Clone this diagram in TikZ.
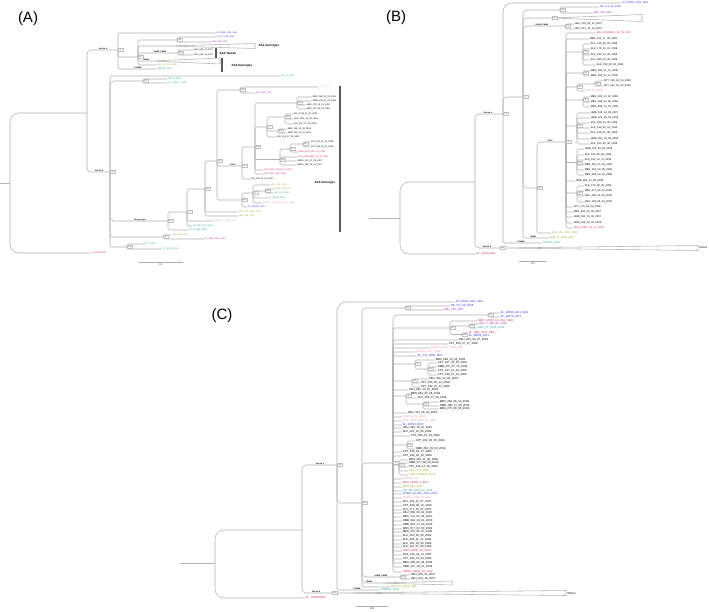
\documentclass[tikz,border=0pt]{standalone}
\usepackage{fontspec}
\setmainfont{Liberation Sans}
\usetikzlibrary{positioning}
\definecolor{blu}{HTML}{2F2FE6}
\definecolor{pur}{HTML}{A626C6}
\definecolor{tea}{HTML}{22A4AA}
\definecolor{oli}{HTML}{A8A820}
\definecolor{grn}{HTML}{6CB02C}
\definecolor{crm}{HTML}{D42A5C}
\definecolor{pnk}{HTML}{EE98AE}
\definecolor{ppk}{HTML}{F4CCD6}

\begin{document}
\begin{tikzpicture}[x=1pt,y=-1pt,
      br/.style={draw=gray!60,line width=0.55pt,rounded corners=1.5pt},
      rm/.style={br,rounded corners=4pt},
      rt/.style={br,rounded corners=9pt},
      tri/.style={draw=gray!60,line width=0.55pt,fill=white},
      la/.style={font=\fontsize{2.2}{2.4}\selectfont,inner sep=0.6pt,anchor=west},
      lb/.style={la,font=\fontsize{2.6}{2.8}\selectfont},
      lc/.style={la,font=\fontsize{2.8}{3}\selectfont},
      bx/.style={draw=gray!50,line width=0.25pt,fill=white,text=black!80,font=\fontsize{1.5}{1.7}\selectfont,
        inner sep=0.4pt,minimum width=5pt,minimum height=3pt,anchor=west},
      bl/.style={font=\fontsize{1.9}{2.1}\selectfont\bfseries,inner sep=0.3pt,anchor=south},
      cl/.style={font=\fontsize{3}{3.4}\selectfont\bfseries,inner sep=0.5pt,anchor=west},
      bar/.style={draw=black!65,line width=1.2pt},
      pl/.style={font=\fontsize{15}{18}\selectfont,inner sep=0pt},
      sc/.style={draw=gray!65,line width=0.8pt}]
      \fill[white] (0,0) rectangle (709,611);
      \useasboundingbox (0,0) rectangle (709,611);

      % Panel A
      \node[pl] (labA) at (28,19) {(A)};
      \coordinate (A0) at (0,183);   \coordinate (rA) at (10,183);
      \coordinate (A1) at (87,113);  \coordinate (A2) at (118,50);
      \coordinate (A3) at (110,172); \coordinate (A4) at (138,57);
      \coordinate (A5) at (177,40);  \coordinate (A6) at (178,53);
      \coordinate (A7) at (143,81);  \coordinate (A8) at (168,221);
      \coordinate (A9) at (163,237); \coordinate (A10) at (127,247);
      \coordinate (A11) at (187,212); \coordinate (A12) at (205,189);
      \coordinate (A13) at (217,161); \coordinate (A14) at (240,90);
      \coordinate (A16) at (242,166); \coordinate (A17) at (255,147);
      \coordinate (A18) at (297,103); \coordinate (A19) at (267,127);
      \coordinate (A20) at (285,117); \coordinate (A21) at (278,131);
      \coordinate (A22) at (280,159.5); \coordinate (A23) at (290,149);
      \coordinate (A24) at (303,144); \coordinate (A25) at (242,200);
      \coordinate (A26) at (253,193); \coordinate (A27) at (265,191);
      \coordinate (tA1) at (168,46);  \coordinate (tA2) at (152,61);

      \draw[br] (A0) -- (rA);
      \node[la,text=crm] (a253) at (90,253) {KL\_UNKNOWN};
      \draw[rt] (rA) |- (A1);
      \draw[rt] (rA) |- (a253.west);
      \foreach \p/\q in {A1/A2,A1/A3,A3/A7,A3/A8}
        \draw[rm] (\p) |- (\q);
      \foreach \p/\q in {A2/A4,A4/A5,A4/A6,A4/tA1,A4/tA2,A3/A9,A3/A10,A8/A11,A11/A12,
          A12/A13,A13/A14,A13/A16,A13/A25,A16/A17,A17/A18,A17/A19,A19/A20,A19/A21,
          A17/A22,A22/A23,A23/A24,A25/A26,A26/A27}
        \draw[br] (\p) |- (\q);
      \foreach \p/\x/\y/\cl/\tx in {
          A2/215/33/blu/KJ\_00082\_2011\_SEA, A5/216/37/blu/HK\_271\_08\_2008,
          A5/211/42/pur/HKU\_248\_2007, A6/193/50/black/HKU\_203\_21\_2007,
          A6/193/55/black/HKU\_013\_16\_2007, A4/156/65/oli/HKU\_07\_2008\_SEA,
          A2/156/69/tea/TW0003\_2004, A3/281/76/tea/HK\_28\_2012,
          A7/167/79/tea/TW\_05\_2006, A7/167/83/tea/HL\_70082\_3\_2008,
          A14/318/87/ppk/HL\_76\_2004, A14/255/93/pur/HKU\_238\_2007,
          A18/312/97/black/MBS\_228\_09\_05\_2009, A18/312/101/black/MMB\_108\_11\_05\_2009,
          A18/306/105/black/MBS\_171\_04\_03\_2009, A18/306/109/black/MBS\_237\_08\_03\_2009,
          A20/293/114/black/KLK\_2014\_11\_07\_2009, A20/293/119/black/HKS\_2074\_14\_09\_2009,
          A20/293/124/black/KLK\_297\_17\_09\_2009, A21/287/129/black/MBS\_295\_23\_03\_2009,
          A21/287/133/black/MBS\_293\_22\_03\_2009, A19/276/137/black/HLK\_041\_07\_05\_2009,
          A24/310/142/black/CPT\_611\_06\_10\_2008, A24/310/147/black/CPT\_508\_04\_11\_2008,
          A23/298/152/crm/HKM\_3193\_6871\_11\_2007, A22/298/157/crm/HKU\_83396831\_15\_05\_2008,
          A22/297/161/black/MBS1\_100\_07\_08\_2007, A22/297/165/black/MBS1\_789\_09\_04\_2007,
          A17/263/170/crm/HKM\_3190\_17693\_10\_2003, A17/263/174/crm/HKU\_9071\_Mar\_2004,
          A16/250/179/black/KLK\_203\_21\_05\_2007, A26/270/185/oli/HKU\_202\_2006,
          A27/275/189/oli/KMS\_195\_2007, A27/274/193/tea/HK\_152\_2008,
          A26/268/198/tea/TY\_97412\_2008, A26/262/203/pnk/SGPSG\_SGP\_2003\_SEA\_1993,
          A25/247/207/blu/KL\_209004\_2007, A12/238/212/oli/TWU\_775\_2005\_2008,
          A12/238/216/oli/KMS\_155\_2007, A11/213/221/pnk/SGPSG\_2\_1989\_2009,
          A11/192/226/tea/HK\_TM\_2013\_2008, A8/188/230/tea/HK\_2013SA\_2008,
          A9/172/235/grn/VN\_0972\_2007, A9/204/239/crm/KL\_1895\_1996\_2007,
          A10/142/244/tea/MY\_72\_2012, A10/162/249/tea/TY\_80001\_2010}
        {\node[la,text=\cl] (a\y) at (\x,\y) {\tx};
         \draw[br] (\p) |- (a\y.west);}

      % Collapsed clades and genotype bars
      \draw[tri] (tA1) -- ++(87,-2.5) -- ++(0,5) -- cycle;
      \draw[tri] (tA2) -- ++(68,-3) -- ++(0,6) -- cycle;
      \coordinate (eA1) at (255,46);
      \node[cl,right=3pt of eA1] (gA1) {SA1 Genotype};
      \coordinate (bA1) at (216,48); \coordinate (bA2) at (216,58);
      \coordinate (bA3) at (222,58); \coordinate (bA4) at (222,72);
      \coordinate (bA5) at (340,86); \coordinate (bA6) at (340,232);
      \draw[bar] (bA1) -- (bA2);
      \draw[bar] (bA3) -- (bA4);
      \draw[bar] (bA5) -- (bA6);
      \node[cl] (gA2) at (219,53) {SA2 Taiwan};
      \node[cl] (gA3) at (231,66) {SA2 Genotype};
      \node[cl] (gA4) at (314,183) {SA3 Genotype};

      % Branch labels and support values
      \node[bl] (lA1) at (103,50) {Sub-lin A};
      \node[bl] (lA2) at (99,172) {Sub-lin B};
      \node[bl] (lA3) at (160,53) {HKMB\_TWMB};
      \node[bl] (lA4) at (146,61) {TWMB};
      \node[bl] (lA5) at (138,69) {STWMB};
      \node[bl] (lA6) at (140,221) {SB genotype};
      \node[bl] (lA7) at (233,166) {CSDC};
      \foreach \p/\v in {A2/99,A3/100,A4/100,A5/100,A6/100,A7/100,A8/100,A9/98,A10/100,
          A11/97,A12/100,A13/100,A14/100,A16/92,A17/100,A18/100,A19/99,A20/100,A21/100,
          A22/100,A23/84,A24/100,A25/100,A26/99,A27/100}
        \node[bx] (b\p) at (\p) {\v};

      \coordinate (sA1) at (139,262); \coordinate (sA2) at (183,262);
      \draw[sc] (sA1) -- (sA2);
      \node[la,anchor=north] (sAl) at (161,263) {0.1};

      % Panel B
      \node[pl] (labB) at (396,18) {(B)};
      \coordinate (B0) at (369,218);  \coordinate (rB) at (400,218);
      \coordinate (B1) at (475,182);  \coordinate (B2) at (503,114);
      \coordinate (B3) at (523,97);   \coordinate (B4) at (560,10);
      \coordinate (B5) at (565,26);   \coordinate (B6) at (537,188);
      \coordinate (B7) at (566,142);  \coordinate (B8) at (583,52);
      \coordinate (B9) at (583,73);   \coordinate (B10) at (577,87);
      \coordinate (B11) at (595,84);  \coordinate (B12) at (583,100);
      \coordinate (B13) at (577,126); \coordinate (B14) at (577,162.5);
      \coordinate (B15) at (577,193);
      \coordinate (tB1) at (500,248); \coordinate (tB2) at (552,18);

      \draw[br] (B0) -- (rB);
      \node[lb,text=crm] (b254) at (476,254) {KL\_UNKNOWN};
      \node[lb,text=blu] (b3) at (622,3) {KJ\_00082\_2011\_SEA};
      \draw[rt] (rB) |- (B1);
      \draw[rt] (rB) |- (b254.west);
      \draw[rt] (B2) |- (b3.west);
      \foreach \p/\q in {B1/B2,B1/tB1,B2/B3,B3/B4,B3/tB2,B3/B5,B3/B6,B6/B7}
        \draw[rm] (\p) |- (\q);
      \foreach \p/\q in {B7/B8,B7/B9,B7/B10,B10/B11,B7/B12,B7/B13,B7/B14,B7/B15}
        \draw[br] (\p) |- (\q);
      \foreach \p/\x/\y/\cl/\tx in {
          B4/599/7/blu/HK\_271\_08\_2008,
          B4/593/13/pur/HKU\_248\_2007, B5/574/24/black/HKU\_203\_05\_21\_2007,
          B5/574/29/black/HKU\_013\_12\_16\_2007, B7/596/33/crm/HKU\_83396831\_15\_05\_2007,
          B7/589/39/black/MBS\_100\_17\_08\_2009, B8/590/44/black/KLK\_196\_08\_05\_2009,
          B8/590/49/black/KLK\_178\_10\_01\_2009, B8/590/55/black/KLK\_286\_13\_05\_2009,
          B8/590/60/black/KLK\_286\_14\_08\_2009, B8/596/65/black/KLK\_195\_09\_06\_2009,
          B9/590/71/black/MBS\_205\_01\_11\_2009, B9/590/76/black/MBS\_293\_02\_11\_2009,
          B11/603/81/black/CPT\_190\_04\_04\_2009, B11/603/86/black/CPT\_192\_06\_04\_2009,
          B10/585/91/pnk/SGPSG\_2008, B12/590/97/black/MBS\_260\_13\_02\_2009,
          B12/590/102/black/MBS\_298\_04\_06\_2009, B12/590/107/black/MBS\_288\_13\_03\_2009,
          B13/590/113/black/HMB\_198\_14\_08\_2007, B13/590/118/black/HMB\_275\_08\_03\_2009,
          B13/590/123/black/KLK\_208\_01\_08\_2009, B13/590/128/black/KLK\_168\_04\_01\_2010,
          B13/590/133/black/KLK\_198\_01\_08\_2009, B13/590/139/black/HMB\_201\_16\_08\_2009,
          B13/590/144/black/KLK\_190\_06\_08\_2009, B14/584/149/black/HMB\_278\_09\_09\_2009,
          B14/584/155/black/KLK\_190\_05\_05\_2009, B14/584/160/black/KLK\_190\_13\_11\_2009,
          B14/584/165/black/MBS\_261\_03\_06\_2009, B14/584/170/black/MBS\_262\_03\_05\_2009,
          B14/584/175/black/MBS\_265\_03\_03\_2009, B7/575/181/black/HMB\_860\_01\_08\_2009,
          B15/584/186/black/KLK\_276\_08\_05\_2009, B15/584/191/black/MBS\_277\_08\_11\_2009,
          B15/584/196/black/HKU\_188\_03\_05\_2009, B15/584/202/black/HKU\_199\_09\_06\_2009,
          B7/573/207/black/CPT\_176\_06\_06\_2009, B7/573/212/black/MBS\_891\_05\_05\_2007,
          B7/573/217/black/HMB\_092\_15\_08\_2007, B7/573/223/black/HMB\_188\_10\_06\_2009,
          B7/573/228/crm/HKM\_19622\_08\_11\_2009, B6/551/233/oli/HKU\_195\_2005\_2008,
          B3/549/238/oli/KMS\_07\_2008\_SEA, B2/542/243/tea/TW0003\_2004}
        {\node[lb,text=\cl] (b\y) at (\x,\y) {\tx};
         \draw[br] (\p) |- (b\y.west);}

      \draw[tri] (tB1) -- ++(198,-2.5) -- ++(0,5) -- cycle;
      \draw[tri] (tB2) -- ++(90,-3.5) -- ++(0,7) -- cycle;
      \coordinate (eB1) at (698,248);
      \node[lb,right=0.5pt of eB1] (gB1) {Others};
      \node[bl] (lB1) at (488,114) {Sub-lin A};
      \node[bl] (lB2) at (487,248) {Sub-lin B};
      \node[bl] (lB3) at (542,26) {HKMB\_TWMB};
      \node[bl] (lB4) at (550,142) {CSDC};
      \node[bl] (lB5) at (521,243) {STWMB};
      \node[bl] (lB6) at (533,238) {TWMB};
      \foreach \p/\v in {B2/100,B3/97,B4/100,B5/100,B6/100,B7/85,B8/95,B9/100,B10/98,
          B11/100,B12/99,B13/94,B14/97,B15/100,tB1/100,tB2/100}
        \node[bx] (b\p) at (\p) {\v};

      \coordinate (sB1) at (519,261); \coordinate (sB2) at (547,261);
      \draw[sc] (sB1) -- (sB2);
      \node[lb,anchor=north] (sBl) at (533,262) {0.1};

      % Panel C
      \node[pl] (labC) at (222,316) {(C)};
      \coordinate (C0) at (180,563);  \coordinate (rC) at (215,563);
      \coordinate (C1) at (302,530);  \coordinate (C2) at (337,465);
      \coordinate (C3) at (362,503);  \coordinate (C4) at (405,308);
      \coordinate (C5) at (393,463);  \coordinate (C6) at (400,577);
      \coordinate (C7) at (488,315);  \coordinate (C8) at (450,328);
      \coordinate (C9) at (469,326);  \coordinate (C10) at (462,334.5);
      \coordinate (C11) at (415,364); \coordinate (C12) at (428,369);
      \coordinate (C13) at (412,381); \coordinate (C14) at (406,396);
      \coordinate (C15) at (423,404); \coordinate (C16) at (407,445);
      \coordinate (C17) at (399,465);
      \coordinate (tC1) at (332,593); \coordinate (tC2) at (377,583);

      \draw[br] (C0) -- (rC);
      \node[lc,text=crm] (c598) at (305,598) {KL\_UNKNOWN};
      \node[lc,text=blu] (c302) at (455,302) {KJ\_00082\_2011\_SEA};
      \draw[rt] (rC) |- (C1);
      \draw[rt] (rC) |- (c598.west);
      \draw[rt] (C2) |- (c302.west);
      \foreach \p/\q in {C1/C2,C1/tC1,C2/C3,C3/C4,C3/C5,C3/C6,C3/tC2,C5/C7}
        \draw[rm] (\p) |- (\q);
      \foreach \p/\q in {C5/C8,C8/C9,C8/C10,C5/C11,C11/C12,C5/C13,C5/C14,C14/C15,C5/C16,C5/C17}
        \draw[br] (\p) |- (\q);
      \foreach \p/\x/\y/\cl/\tx in {
          C4/450/306/blu/HK\_271\_08\_2008,
          C4/443/310/pur/HKU\_248\_2007, C7/500/313/blu/KL\_28008\_2011\_SEA,
          C7/500/317/blu/KL\_98178\_2011, C8/477/321/crm/HKM\_17695\_04\_2012\_SEA,
          C9/478/324/pur/HKU\_L\_495\_05\_2012, C9/477/328/tea/HKU\_TY\_1016\_2012,
          C10/468/333/crm/KL\_HKU\_2012\_SEA, C10/468/336/blu/KL\_98026\_2011,
          C5/458/340/black/HKU\_641\_09\_07\_2009, C5/448/344/black/CPT\_609\_07\_17\_2009,
          C5/430/348/pnk/SGPSG\_SGP\_2008\_SEA, C5/415/352/pnk/SGPSG\_CPT\_2008,
          C5/417/356/blu/KL\_070\_2008\_SEA, C11/435/360/black/MBS\_598\_10\_05\_2009,
          C12/437/363/black/CPT\_197\_03\_05\_2009, C12/437/367/black/HMB\_270\_07\_12\_2009,
          C12/437/371/black/CPT\_197\_13\_04\_2009, C12/437/375/black/CPT\_199\_12\_04\_2009,
          C13/428/379/black/HKU\_300\_04\_08\_2009, C13/420/383/black/CPT\_205\_06\_12\_2009,
          C13/420/387/black/CPT\_192\_07\_01\_2009, C5/408/390/black/HKU\_861\_10\_10\_2009,
          C14/410/394/black/MBS\_864\_05\_08\_2009, C14/417/398/black/KLK\_266\_07\_09\_2009,
          C15/439/402/black/MBS\_298\_06\_12\_2009, C15/439/406/black/HMB\_298\_17\_08\_2009,
          C15/439/409/black/MBS\_275\_08\_06\_2009, C5/407/413/black/HKU\_301\_06\_01\_2009,
          C5/402/417/pnk/SGPSG\_P1\_2008, C5/402/421/pnk/SGP\_08\_0\_2007\_11\_2007,
          C5/402/425/blu/KL\_20555\_2008, C5/402/428/black/HKU\_662\_19\_01\_2010,
          C5/402/432/black/KLK\_201\_03\_06\_2009, C5/410/436/black/CPT\_186\_10\_03\_2009,
          C16/415/441/black/CPT\_262\_06\_05\_2009, C16/415/449/black/HMB\_253\_03\_04\_2009,
          C5/402/452/black/CPT\_205\_06\_07\_2009, C5/402/456/black/CPT\_263\_06\_05\_2009,
          C17/408/460/black/MBS\_245\_11\_06\_2009, C17/408/463/black/HMB\_277\_08\_08\_2009,
          C17/408/467/black/CPT\_448\_14\_10\_2009, C17/408/471/oli/HKU\_171\_2006,
          C17/408/475/oli/TWU\_5105863\_2012, C5/402/479/pnk/SGPSG\_10,
          C5/402/483/crm/KMS\_19936\_5\_2011, C5/402/487/oli/KMS\_205\_2007,
          C5/402/491/tea/HK\_TM\_1294\_03\_2011, C5/402/494/blu/KLMM\_14\_062\_1762\_2010,
          C5/402/498/pnk/SGPSG\_2001\_1\_2011, C5/402/502/black/KLK\_249\_01\_07\_2007,
          C5/402/506/black/CPT\_498\_08\_01\_2010, C5/402/510/black/KLK\_371\_05\_01\_2010,
          C5/402/513/black/HKU\_858\_06\_04\_2010, C5/402/517/black/MBS\_712\_04\_08\_2010,
          C5/402/521/black/HMB\_964\_09\_01\_2010, C5/402/525/black/HMB\_204\_17\_06\_2009,
          C5/402/529/black/MBS\_677\_03\_03\_2009, C5/402/532/black/MBS\_375\_06\_07\_2009,
          C5/402/536/black/KLK\_090\_06\_06\_2009, C5/402/540/black/KLK\_098\_11\_12\_2009,
          C5/402/544/black/KLK\_192\_03\_06\_2009, C5/402/547/black/KLK\_197\_07\_06\_2009,
          C5/402/551/crm/HKM\_19832\_06\_2010, C5/402/555/black/KHS\_109\_09\_11\_2007,
          C5/402/559/black/CPT\_082\_11\_04\_2009, C5/402/563/black/MBS\_268\_06\_08\_2009,
          C5/402/567/black/HMB\_167\_09\_01\_2009, C5/402/572/crm/HKMA\_18905\_04\_2012,
          C6/410/575/black/HKU\_203\_21\_2007, C6/410/579/black/HKU\_013\_16\_2007,
          C3/390/587/oli/KMS\_07\_2008\_SEA, C2/380/590/tea/TW0003\_2004}
        {\node[lc,text=\cl] (c\y) at (\x,\y) {\tx};
         \draw[br] (\p) |- (c\y.west);}

      \draw[tri] (tC1) -- ++(234,-2.5) -- ++(0,5) -- cycle;
      \draw[tri] (tC2) -- ++(75,-2) -- ++(0,4) -- cycle;
      \coordinate (eC1) at (566,593);
      \node[lc,right=0.5pt of eC1] (gC1) {Others};
      \node[bl] (lC1) at (320,465) {Sub-lin A};
      \node[bl] (lC2) at (316,593) {Sub-lin B};
      \node[bl] (lC3) at (381,577) {HKMB\_TWMB};
      \node[bl] (lC4) at (369,583) {TWMB};
      \node[bl] (lC5) at (357,590) {STWMB};
      \foreach \p/\v in {C2/100,C3/100,C4/100,C5/87,C6/100,C7/100,C8/99,C9/100,C10/100,
          C11/99,C12/100,C13/100,C14/91,C15/100,C16/100,C17/99,tC1/100}
        \node[bx] (b\p) at (\p) {\v};

      \coordinate (sC1) at (356,606); \coordinate (sC2) at (388,606);
      \draw[sc] (sC1) -- (sC2);
      \node[lc,anchor=north] (sCl) at (372,607) {0.1};

    \end{tikzpicture}
\end{document}
